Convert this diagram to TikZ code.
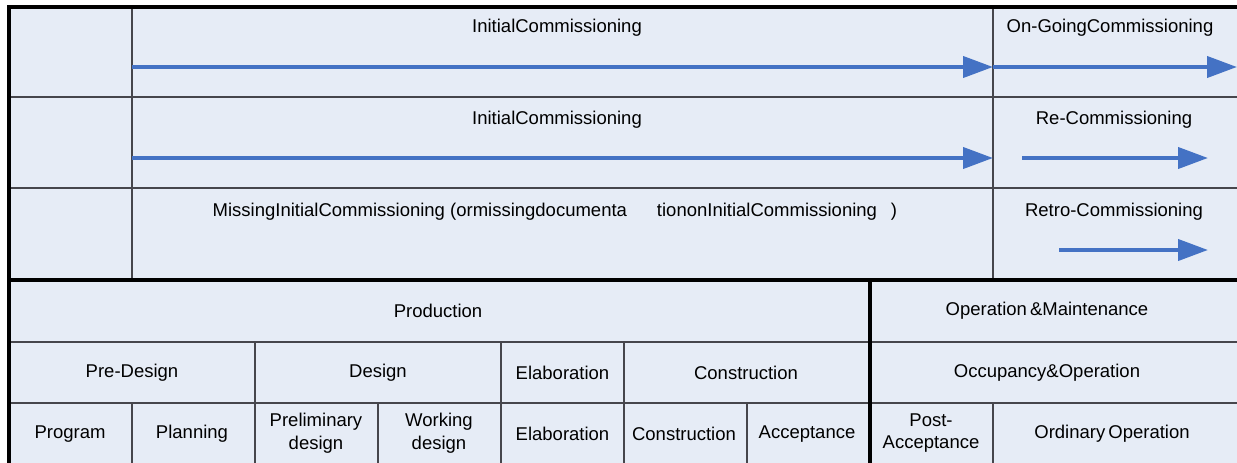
\documentclass[tikz,border=0pt]{standalone}
\usepackage{fontspec}
\setmainfont{Liberation Sans}
\usetikzlibrary{arrows.meta}
\definecolor{cellfill}{RGB}{230,236,246}
\definecolor{gridgray}{RGB}{70,70,76}
\definecolor{flowblue}{RGB}{68,114,196}
\begin{document}
\begin{tikzpicture}[
    x=1pt, y=-1pt,
    every node/.style={font=\fontsize{18.5}{22.5}\selectfont, align=center, inner sep=0pt},
    grid/.style={draw=gridgray, line width=1.2pt},
    frame/.style={draw=black, line width=4pt},
    flow/.style={draw=flowblue, line width=4pt, -{Triangle[length=30pt,width=21pt]}}
]
\useasboundingbox (0,0) rectangle (1237,463);

% Background
\fill[cellfill] (9,7) rectangle (1237,463);

% Upper part: commissioning rows
\draw[grid] (9,97) -- (1237,97);
\draw[grid] (9,188) -- (1237,188);
\draw[grid] (132,7) -- (132,280);
\draw[grid] (993,7) -- (993,280);

% Lower part: phases
\draw[grid] (9,342) -- (1237,342);
\draw[grid] (9,403) -- (1237,403);
\draw[grid] (255,342) -- (255,463);
\draw[grid] (501,342) -- (501,463);
\draw[grid] (624,342) -- (624,463);
\draw[grid] (132,403) -- (132,463);
\draw[grid] (378,403) -- (378,463);
\draw[grid] (747,403) -- (747,463);
\draw[grid] (993,403) -- (993,463);

% Frame
\draw[frame] (9,463) -- (9,7) -- (1237,7);
\draw[frame] (9,280) -- (1237,280);
\draw[frame] (870,280) -- (870,463);

% Row 1
\node (ic1) at (557,28) {InitialCommissioning};
\node (ogc) at (1110,28) {On-GoingCommissioning};
\coordinate (a1s) at (132,67);
\coordinate (a1e) at (993,67);
\coordinate (a2e) at (1237,67);
\draw[flow] (a1s) -- (a1e);
\draw[flow] (a1e) -- (a2e);

% Row 2
\node (ic2) at (557,120) {InitialCommissioning};
\node (rec) at (1114,120) {Re-Commissioning};
\coordinate (b1s) at (132,158);
\coordinate (b1e) at (993,158);
\coordinate (b2s) at (1022,158);
\coordinate (b2e) at (1208,158);
\draw[flow] (b1s) -- (b1e);
\draw[flow] (b2s) -- (b2e);

% Row 3
\node (mic) at (555,212) {MissingInitialCommissioning (ormissingdocumenta\hspace{30pt}tiononInitialCommissioning\hspace{14pt})};
\node (rtc) at (1114,212) {Retro-Commissioning};
\coordinate (c1s) at (1059,250);
\coordinate (c1e) at (1208,250);
\draw[flow] (c1s) -- (c1e);

% Row 4
\node (prod) at (438,311) {Production};
\node (om) at (1047,311) {Operation\,\&Maintenance};

% Row 5
\node (pre) at (132,373) {Pre-Design};
\node (des) at (378,373) {Design};
\node (ela1) at (562.5,373) {Elaboration};
\node (con1) at (746,373) {Construction};
\node (occ) at (1047,373) {Occupancy\&Operation};

% Row 6
\node (prg) at (70,434) {Program};
\node (pln) at (192,434) {Planning};
\node (pld) at (316,433) {Preliminary\\design};
\node (wkd) at (439,433) {Working\\design};
\node (ela2) at (562.5,434) {Elaboration};
\node (con2) at (684,434) {Construction};
\node (acc) at (807,434) {Acceptance};
\node (pac) at (931,433) {Post-\\Acceptance};
\node (ord) at (1112,434) {Ordinary\,Operation};

\end{tikzpicture}
\end{document}
